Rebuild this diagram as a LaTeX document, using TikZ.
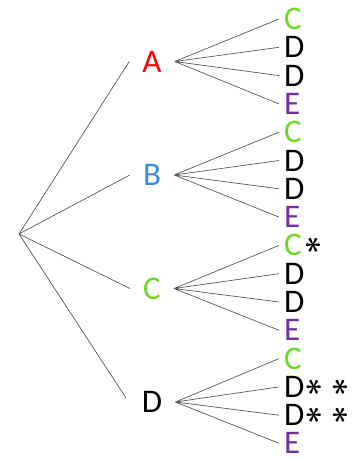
\documentclass[tikz,border=0pt]{standalone}
\usepackage{graphicx}
\usepackage{fontspec}
\setmainfont{Carlito}
\usetikzlibrary{positioning}

\definecolor{cred}{RGB}{255,0,0}
\definecolor{cblue}{RGB}{58,140,220}
\definecolor{cgreen}{RGB}{112,214,40}
\definecolor{cpurple}{RGB}{112,48,160}

% centred asterisk after a leaf
\newcommand{\astr}{\raisebox{3pt}{\scalebox{1.3}{\rotatebox[origin=c]{90}{\boldmath$\ast$}}}}

\begin{document}
\begin{tikzpicture}[
    x=1pt, y=-1pt,
    first/.style={inner xsep=13pt, inner ysep=0pt, font=\fontsize{33}{33}\selectfont},
    leaf/.style={anchor=west, inner xsep=5pt, inner ysep=0pt, font=\fontsize{33}{33}\selectfont},
    branch/.style={draw=black!65, line width=0.7pt}
]
    \useasboundingbox (0,0) rectangle (355,460);

    \coordinate (root) at (19,234);

    % first draw
    \node[first, text=cred] (A) at (152,61.5) {A};
    \node[first, text=cblue] (B) at (152,175) {B};
    \node[first, text=cgreen] (C) at (152,288.5) {C};
    \node[first] (D) at (152,402) {D};

    % second draw
    \node[leaf, text=cgreen] (ac) at (279,19) {C};
    \node[leaf] (ad1) at (279,47.3) {D};
    \node[leaf] (ad2) at (279,75.6) {D};
    \node[leaf, text=cpurple] (ae) at (279,103.9) {E};

    \node[leaf, text=cgreen] (bc) at (279,132.2) {C};
    \node[leaf] (bd1) at (279,160.5) {D};
    \node[leaf] (bd2) at (279,188.8) {D};
    \node[leaf, text=cpurple] (be) at (279,217.1) {E};

    \node[leaf] (cc) at (279,245.4) {\textcolor{cgreen}{C}\kern4pt\astr};
    \node[leaf] (cd1) at (279,273.7) {D};
    \node[leaf] (cd2) at (279,302) {D};
    \node[leaf, text=cpurple] (ce) at (279,330.3) {E};

    \node[leaf, text=cgreen] (dc) at (279,358.6) {C};
    \node[leaf] (dd1) at (279,386.9) {D\kern2pt\astr\hspace{11pt}\astr};
    \node[leaf] (dd2) at (279,415.2) {D\kern2pt\astr\hspace{11pt}\astr};
    \node[leaf, text=cpurple] (de) at (279,443.3) {E};

    \draw[branch, shorten >=5pt] (root) -- (A.west) (root) -- (B.west) (root) -- (C.west) (root) -- (D.west);

    \draw[branch] (A.east) -- (ac.west) (A.east) -- (ad1.west) (A.east) -- (ad2.west) (A.east) -- (ae.west);
    \draw[branch] (B.east) -- (bc.west) (B.east) -- (bd1.west) (B.east) -- (bd2.west) (B.east) -- (be.west);
    \draw[branch] (C.east) -- (cc.west) (C.east) -- (cd1.west) (C.east) -- (cd2.west) (C.east) -- (ce.west);
    \draw[branch] (D.east) -- (dc.west) (D.east) -- (dd1.west) (D.east) -- (dd2.west) (D.east) -- (de.west);
\end{tikzpicture}
\end{document}
